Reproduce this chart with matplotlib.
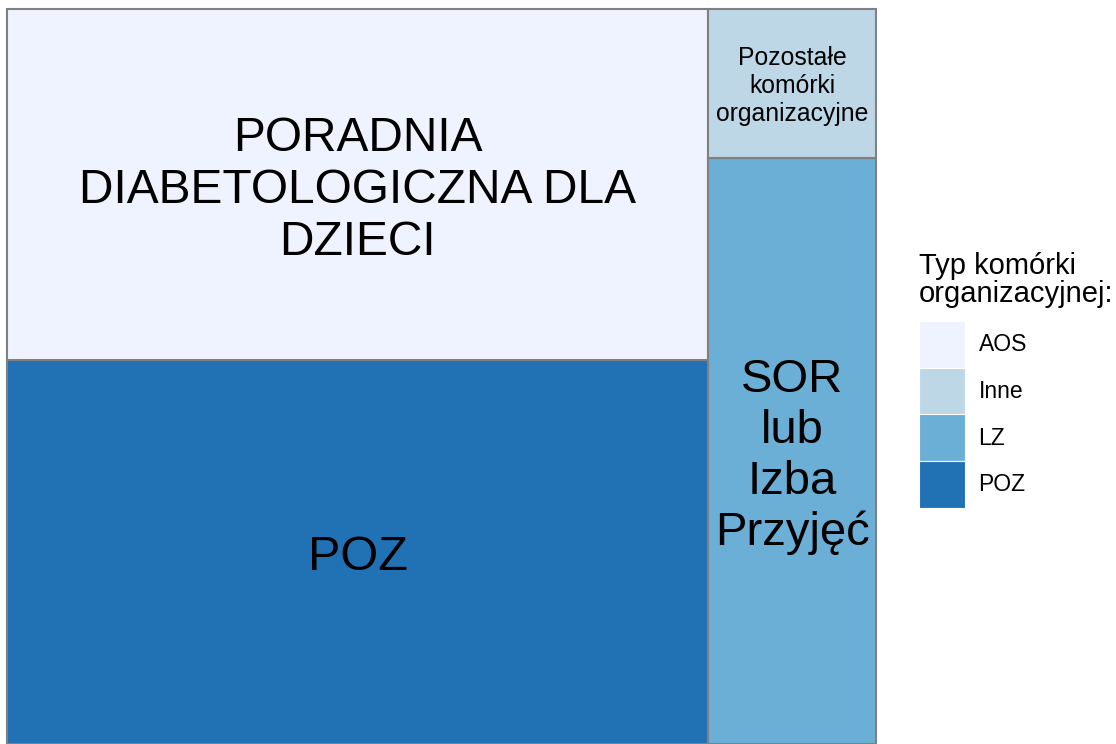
import matplotlib.pyplot as plt
import matplotlib.transforms as mtransforms
from matplotlib.patches import Rectangle, Patch

plt.rcParams['font.family'] = ['Liberation Sans', 'DejaVu Sans']

# share of each organisational unit type (%)
types = ["AOS", "Inne", "LZ", "POZ"]
shares = [38.5, 3.9, 15.4, 42.2]
labels = ["PORADNIA\nDIABETOLOGICZNA DLA\nDZIECI",
          "Pozostałe\nkomórki\norganizacyjne",
          "SOR\nlub\nIzba\nPrzyjęć",
          "POZ"]
label_sizes = [34.5, 17.8, 34, 35]
colors = ["#EFF3FF", "#BDD7E7", "#6BAED6", "#2171B5"]


def worst(row, short):
    s = sum(row)
    return max(max(short**2 * r / s**2, s**2 / (short**2 * r)) for r in row)


def squarify(sizes, x, y, w, h):
    rects = []
    while sizes:
        short = min(w, h)
        row = [sizes[0]]
        i = 1
        while i < len(sizes) and worst(row + [sizes[i]], short) <= worst(row, short):
            row.append(sizes[i])
            i += 1
        s = sum(row)
        if w >= h:
            cw = s / h
            yy = y
            for r in row:
                rects.append((x, yy, cw, r / cw))
                yy += r / cw
            x += cw
            w -= cw
        else:
            rh = s / w
            xx = x
            for r in row:
                rects.append((xx, y, r / rh, rh))
                xx += r / rh
            y += rh
            h -= rh
        sizes = sizes[i:]
    return rects


W, H = 869.0, 735.0
order = sorted(range(len(types)), key=lambda k: -shares[k])
total = sum(shares)
areas = [shares[k] / total * W * H for k in order]
rects = squarify(areas, 0, 0, W, H)

fig = plt.figure(figsize=(11.16, 7.44), dpi=100)
ax = fig.add_axes([7 / 1116, 0, W / 1116, H / 744])
ax.set_xlim(0, W)
ax.set_ylim(0, H)
ax.axis("off")

for k, (rx, ry, rw, rh) in zip(order, rects):
    ax.add_patch(Rectangle((rx, ry), rw, rh, facecolor=colors[k],
                           edgecolor="#808080", lw=1.5, clip_on=False))
    # labels sit a little below the geometric centre
    shift = 0.06 if label_sizes[k] > 20 else 0.025
    tr = ax.transData + mtransforms.ScaledTranslation(0, -shift, fig.dpi_scale_trans)
    ax.text(rx + rw / 2, ry + rh / 2, labels[k], ha="center", va="center",
            fontsize=label_sizes[k], linespacing=1.2, transform=tr)

handles = [Patch(facecolor=c, edgecolor="white", lw=0.8) for c in colors]
leg = fig.legend(handles, types, loc="center left", bbox_to_anchor=(919 / 1116, 0.489),
                 frameon=False, fontsize=16.5, title="Typ komórki\norganizacyjnej:",
                 title_fontsize=21, handlelength=2.0, handleheight=2.76,
                 labelspacing=0, handletextpad=0.6, borderpad=0, borderaxespad=0)
leg._legend_box.align = "left"
leg._legend_box.sep = 9
leg.get_title().set_linespacing(1.0)

fig.savefig("out.png", dpi=100)
